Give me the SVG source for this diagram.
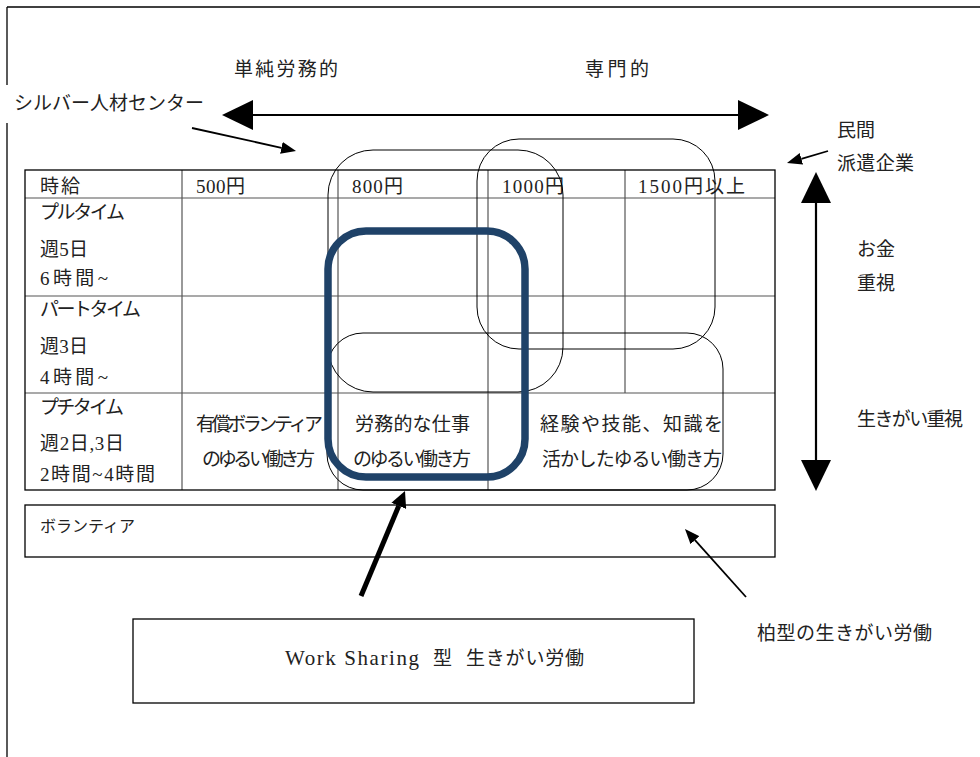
<svg xmlns="http://www.w3.org/2000/svg" width="980" height="757" viewBox="0 0 980 757">
  <style>
    text { font-family: 'Liberation Serif', 'Noto Sans CJK JP', serif; font-size: 19px; fill: #222; }
    .sm { font-size: 16px; }
    .latin { font-size: 21px; }
    .frame { fill: none; stroke: #000; stroke-width: 1.3; }
    .grid { stroke: #555; stroke-width: 1.2; }
    .zone { fill: none; stroke: #000; stroke-width: 1; }
    .focus { fill: none; stroke: #1f4268; stroke-width: 7.5; }
    .thin { fill: none; stroke: #000; stroke-width: 1.8; }
    .heavy { fill: none; stroke: #000; stroke-width: 2.2; }
    .bold { fill: none; stroke: #000; stroke-width: 5; }
  </style>
  <defs>
    <marker id="head-big" markerUnits="userSpaceOnUse" viewBox="0 0 31 30" refX="0" refY="15" markerWidth="31" markerHeight="30" orient="auto-start-reverse">
      <polygon points="0,0 31,15 0,30" fill="#000"/>
    </marker>
    <marker id="head-small" markerUnits="userSpaceOnUse" viewBox="0 0 15 12" refX="0" refY="6" markerWidth="15" markerHeight="12" orient="auto">
      <polygon points="0,0 15,6 0,12" fill="#000"/>
    </marker>
    <marker id="head-bold" markerUnits="userSpaceOnUse" viewBox="0 0 16 16" refX="0" refY="8" markerWidth="16" markerHeight="16" orient="auto">
      <polygon points="0,0 16,8 0,16" fill="#000"/>
    </marker>
  </defs>

  <rect width="980" height="757" fill="#fff"/>

  <!-- page frame -->
  <g id="page-frame">
    <line x1="7" y1="7" x2="980" y2="7" stroke="#000" stroke-width="1.3"/>
    <line x1="7" y1="7" x2="7" y2="757" stroke="#000" stroke-width="1.3"/>
  </g>

  <!-- axis labels -->
  <g id="label-simple">
    <text x="234" y="76" textLength="104">単純労務的</text>
  </g>
  <g id="label-expert">
    <text x="585" y="76" textLength="64">専門的</text>
  </g>
  <g id="label-silver">
    <rect x="0" y="85" width="212" height="38" fill="#fff"/>
    <text x="14" y="110" textLength="190">シルバー人材センター</text>
  </g>
  <g id="label-private">
    <text x="837" y="137" textLength="38">民間</text>
    <text x="837" y="170" textLength="77">派遣企業</text>
  </g>
  <g id="label-money">
    <text x="857" y="256" textLength="38">お金</text>
    <text x="857" y="290" textLength="38">重視</text>
  </g>
  <g id="label-purpose">
    <text x="857" y="426" textLength="106">生きがい重視</text>
  </g>

  <!-- wage / working-time table -->
  <g id="wage-table">
    <line class="grid" x1="182" y1="170" x2="182" y2="490"/>
    <line class="grid" x1="338" y1="170" x2="338" y2="490"/>
    <line class="grid" x1="488" y1="170" x2="488" y2="490"/>
    <line class="grid" x1="625" y1="170" x2="625" y2="393"/>
    <line class="grid" x1="25" y1="198" x2="775" y2="198"/>
    <line class="grid" x1="25" y1="296" x2="775" y2="296"/>
    <line class="grid" x1="25" y1="393" x2="775" y2="393"/>
    <rect class="frame" x="25" y="170" width="750" height="320"/>

    <text x="40" y="193" textLength="40">時給</text>
    <text x="196" y="193" textLength="49">500円</text>
    <text x="352" y="193" textLength="51">800円</text>
    <text x="502" y="193" textLength="62">1000円</text>
    <text x="638" y="193" textLength="107">1500円以上</text>

    <text x="40" y="219" textLength="85">プルタイム</text>
    <text x="40" y="256" textLength="48">週5日</text>
    <text x="40" y="285" textLength="68">6時間~</text>

    <text x="40" y="316" textLength="101">パートタイム</text>
    <text x="40" y="353" textLength="48">週3日</text>
    <text x="40" y="384" textLength="68">4時間~</text>

    <text x="40" y="414" textLength="84">プチタイム</text>
    <text x="40" y="450" textLength="84">週2日,3日</text>
    <text x="40" y="481" textLength="115">2時間~4時間</text>

    <text x="196" y="431" textLength="127">有償ボランティア</text>
    <text x="202" y="466" textLength="113">のゆるい働き方</text>
    <text x="355" y="431" textLength="115">労務的な仕事</text>
    <text x="353" y="466" textLength="118">のゆるい働き方</text>
    <text x="540" y="431" textLength="183">経験や技能、知識を</text>
    <text x="542" y="466" textLength="180">活かしたゆるい働き方</text>
  </g>

  <!-- overlapping work-style zones -->
  <g id="zone-silver">
    <rect class="zone" x="328" y="150" width="235" height="242" rx="45" ry="45"/>
  </g>
  <g id="zone-private">
    <rect class="zone" x="477" y="139" width="238" height="210" rx="42" ry="42"/>
  </g>
  <g id="zone-kashiwa">
    <rect class="zone" x="327" y="333" width="396" height="157" rx="36" ry="36"/>
  </g>
  <g id="zone-work-sharing">
    <rect class="focus" x="328" y="231" width="197" height="246" rx="38" ry="38"/>
  </g>

  <!-- volunteer band -->
  <g id="volunteer">
    <rect class="frame" x="25" y="505" width="750" height="52"/>
    <text class="sm" x="40" y="532" textLength="95">ボランティア</text>
  </g>

  <!-- work sharing box -->
  <g id="work-sharing">
    <rect class="frame" x="133" y="619" width="561" height="84"/>
    <text class="latin" x="285" y="665" textLength="134">Work Sharing</text>
    <text x="433" y="665">型</text>
    <text x="466" y="665" textLength="118">生きがい労働</text>
  </g>

  <g id="label-kashiwa">
    <text x="757" y="640" textLength="175">柏型の生きがい労働</text>
  </g>

  <!-- connectors -->
  <g id="connectors">
    <line class="heavy" x1="253" y1="115" x2="738" y2="115" marker-start="url(#head-big)" marker-end="url(#head-big)"/>
    <line class="heavy" x1="816" y1="203" x2="816" y2="460" marker-start="url(#head-big)" marker-end="url(#head-big)"/>
    <line class="thin" x1="192" y1="128" x2="281.4" y2="147.8" marker-end="url(#head-small)"/>
    <line class="thin" x1="828" y1="151" x2="801.4" y2="158.8" marker-end="url(#head-small)"/>
    <line class="thin" x1="746" y1="597" x2="695" y2="540.2" marker-end="url(#head-small)"/>
    <line class="bold" x1="361" y1="596" x2="398.8" y2="505.8" marker-end="url(#head-bold)"/>
  </g>
</svg>
